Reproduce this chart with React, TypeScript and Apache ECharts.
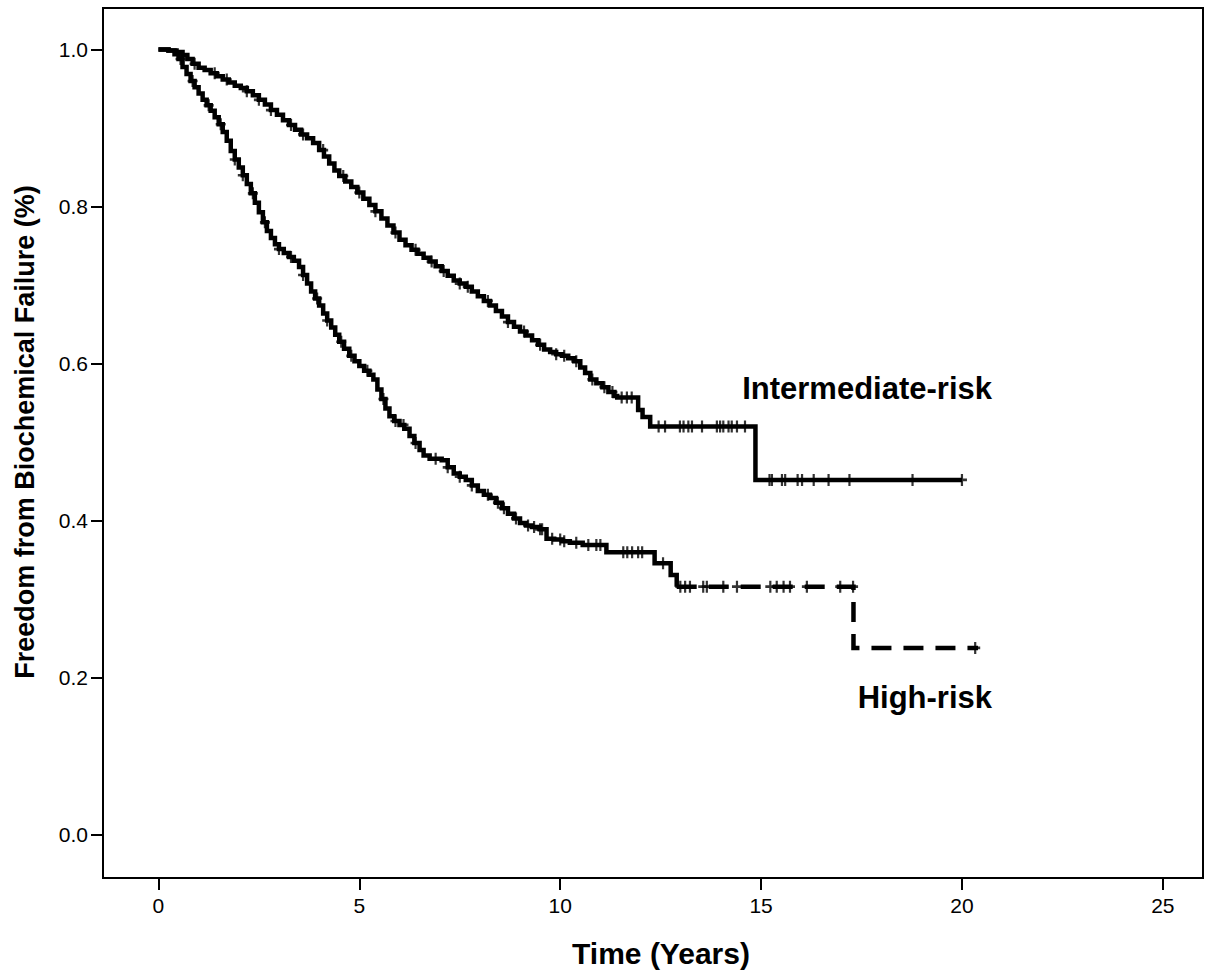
import React, { useEffect, useRef } from "react";
import * as echarts from "echarts";

// Axis ticks
const xTicks = [0, 5, 10, 15, 20, 25];
const yTicks = [0, 0.2, 0.4, 0.6, 0.8, 1.0];

// Kaplan-Meier estimates [years, survival]; each value holds until the next time
const intermediateRisk: [number, number][] = [
  [0, 1.0], [0.25, 0.999], [0.45, 0.997], [0.6, 0.993], [0.72, 0.988],
  [0.85, 0.982], [1.0, 0.977], [1.15, 0.974], [1.3, 0.97], [1.45, 0.966],
  [1.6, 0.962], [1.75, 0.958], [1.9, 0.954], [2.05, 0.951], [2.2, 0.947],
  [2.35, 0.942], [2.5, 0.936], [2.65, 0.93], [2.8, 0.923], [2.95, 0.917],
  [3.1, 0.91], [3.25, 0.904], [3.4, 0.898], [3.55, 0.892], [3.7, 0.887],
  [3.85, 0.881], [4.0, 0.872], [4.12, 0.864], [4.25, 0.855], [4.38, 0.846],
  [4.5, 0.839], [4.65, 0.832], [4.8, 0.825], [4.95, 0.818], [5.1, 0.81],
  [5.25, 0.802], [5.4, 0.794], [5.55, 0.785], [5.7, 0.776], [5.85, 0.767],
  [6.0, 0.758], [6.15, 0.751], [6.3, 0.745], [6.45, 0.74], [6.6, 0.735],
  [6.75, 0.73], [6.9, 0.724], [7.05, 0.718], [7.2, 0.712], [7.35, 0.706],
  [7.5, 0.702], [7.65, 0.698], [7.8, 0.692], [7.95, 0.686], [8.1, 0.68],
  [8.25, 0.674], [8.4, 0.667], [8.55, 0.66], [8.7, 0.653], [8.85, 0.647],
  [9.0, 0.641], [9.15, 0.636], [9.3, 0.63], [9.45, 0.624], [9.6, 0.618],
  [9.75, 0.615], [9.9, 0.612], [10.05, 0.61], [10.2, 0.607], [10.35, 0.603],
  [10.5, 0.595], [10.62, 0.588], [10.75, 0.58], [10.9, 0.575], [11.05, 0.57],
  [11.2, 0.564], [11.35, 0.559], [11.42, 0.557], [11.94, 0.541], [12.05, 0.532],
  [12.24, 0.52], [14.86, 0.452], [20.0, 0.452],
];

const highRisk: [number, number][] = [
  [0, 1.0], [0.25, 0.999], [0.4, 0.994], [0.5, 0.988], [0.6, 0.978],
  [0.7, 0.969], [0.8, 0.96], [0.9, 0.952], [1.0, 0.944], [1.1, 0.936],
  [1.2, 0.929], [1.3, 0.922], [1.4, 0.914], [1.5, 0.905], [1.6, 0.895],
  [1.7, 0.884], [1.8, 0.871], [1.9, 0.86], [2.0, 0.85], [2.1, 0.84],
  [2.2, 0.829], [2.3, 0.817], [2.4, 0.805], [2.5, 0.793], [2.6, 0.78],
  [2.7, 0.769], [2.8, 0.76], [2.9, 0.752], [3.0, 0.746], [3.12, 0.741],
  [3.25, 0.736], [3.37, 0.731], [3.5, 0.723], [3.6, 0.713], [3.7, 0.702],
  [3.8, 0.692], [3.9, 0.683], [4.0, 0.674], [4.1, 0.664], [4.2, 0.655],
  [4.3, 0.646], [4.4, 0.637], [4.5, 0.628], [4.62, 0.619], [4.75, 0.61],
  [4.88, 0.603], [5.0, 0.597], [5.12, 0.591], [5.25, 0.586], [5.35, 0.58],
  [5.45, 0.567], [5.55, 0.555], [5.65, 0.543], [5.75, 0.533], [5.87, 0.527],
  [6.0, 0.522], [6.12, 0.517], [6.25, 0.508], [6.37, 0.499], [6.5, 0.49],
  [6.6, 0.483], [6.75, 0.479], [7.05, 0.477], [7.2, 0.468], [7.35, 0.46],
  [7.5, 0.456], [7.65, 0.452], [7.8, 0.445], [7.95, 0.438], [8.1, 0.433],
  [8.25, 0.429], [8.4, 0.423], [8.55, 0.416], [8.7, 0.409], [8.85, 0.403],
  [9.0, 0.397], [9.15, 0.394], [9.3, 0.392], [9.49, 0.389], [9.66, 0.377],
  [9.85, 0.376], [10.05, 0.374], [10.24, 0.372], [10.56, 0.369], [11.15, 0.36],
  [12.35, 0.346], [12.75, 0.331], [12.9, 0.316], [17.3, 0.238], [20.4, 0.238],
];

// Censored observations (years)
const intermediateCensored = [
  0.9, 1.4, 1.7, 2.2, 2.5, 2.8, 3.3, 3.6, 4.1, 4.6, 5.0, 5.4, 5.9, 6.4, 6.8,
  7.1, 7.5, 7.7, 8.2, 8.7, 9.1, 9.5, 9.9, 10.1, 10.4, 10.8, 11.1, 11.3,
  11.53, 11.66, 11.78, 12.45, 12.61, 12.98, 13.07, 13.19, 13.28, 13.53, 13.9,
  13.98, 14.06, 14.19, 14.27, 14.4, 14.6, 15.21, 15.27, 15.52, 15.6, 15.91,
  16.02, 16.31, 16.68, 17.2, 18.77, 20.0,
];

const highRiskCensored = [
  0.55, 0.85, 1.25, 1.55, 1.9, 2.1, 2.35, 2.65, 3.0, 3.3, 3.6, 3.95, 4.2,
  4.55, 4.8, 5.2, 5.6, 5.9, 6.1, 6.4, 6.9, 7.2, 7.5, 7.8, 8.2, 8.45, 8.6,
  8.9, 9.2, 9.35, 9.5, 9.55, 9.8, 10.0, 10.1, 10.4, 10.7, 10.9, 11.0, 11.57,
  11.67, 11.79, 11.94, 12.04, 12.56, 12.99, 13.11, 13.23, 13.56, 13.65, 14.06,
  14.4, 15.23, 15.39, 15.56, 15.72, 16.14, 16.97, 17.29, 20.33,
];

const survivalAt = (curve: [number, number][], t: number) => {
  let s = curve[0][1];
  for (const [ti, si] of curve) {
    if (ti <= t) s = si;
    else break;
  }
  return s;
};

const FONT = "'Liberation Sans', Arial, Helvetica, sans-serif";
const PLUS = "path://M3.9,0H6.1V3.9H10V6.1H6.1V10H3.9V6.1H0V3.9H3.9Z";
const DASH_START = 12.9;

export default function App() {
  const ref = useRef<HTMLDivElement>(null);

  useEffect(() => {
    if (!ref.current) return;
    const chart = echarts.init(ref.current, undefined, { renderer: "svg" });

    const highSolid = highRisk.filter(([t]) => t <= DASH_START);
    const highDashed = highRisk.filter(([t]) => t >= DASH_START);

    const tick = {
      show: true,
      length: 12,
      lineStyle: { color: "#000", width: 2 },
    };
    const label = {
      fontSize: 21,
      color: "#000",
      fontFamily: FONT,
    };

    chart.setOption({
      animation: false,
      backgroundColor: "#ffffff",
      grid: {
        left: 103,
        right: 14,
        top: 8,
        bottom: 98,
        show: true,
        borderColor: "#000",
        borderWidth: 2,
        backgroundColor: "transparent",
        containLabel: false,
        outerBoundsMode: "none",
      },
      xAxis: {
        type: "value",
        min: -1.38,
        max: 26,
        splitLine: { show: false },
        axisLine: { show: false, onZero: false },
        axisTick: { ...tick, customValues: xTicks },
        axisLabel: { ...label, customValues: xTicks, margin: 17 },
      },
      yAxis: {
        type: "value",
        min: -0.055,
        max: 1.053,
        splitLine: { show: false },
        axisLine: { show: false, onZero: false },
        axisTick: { ...tick, customValues: yTicks },
        axisLabel: {
          ...label,
          customValues: yTicks,
          margin: 15,
          formatter: (v: number) => v.toFixed(1),
        },
      },
      series: [
        {
          name: "Intermediate-risk",
          type: "line",
          step: "end",
          showSymbol: false,
          data: intermediateRisk,
          lineStyle: { color: "#000", width: 4.5, join: "miter" },
          z: 3,
        },
        {
          name: "High-risk",
          type: "line",
          step: "end",
          showSymbol: false,
          data: highSolid,
          lineStyle: { color: "#000", width: 4.5, join: "miter" },
          z: 3,
        },
        {
          name: "High-risk",
          type: "line",
          step: "end",
          showSymbol: false,
          data: highDashed,
          lineStyle: { color: "#000", width: 4.5, type: [20, 12], join: "miter" },
          z: 3,
        },
        {
          name: "Intermediate-risk censored",
          type: "scatter",
          symbol: PLUS,
          symbolSize: [10, 12],
          data: intermediateCensored.map((t) => [t, survivalAt(intermediateRisk, t)]),
          itemStyle: { color: "#000" },
          z: 4,
        },
        {
          name: "High-risk censored",
          type: "scatter",
          symbol: PLUS,
          symbolSize: [10, 12],
          data: highRiskCensored.map((t) => [t, survivalAt(highRisk, t)]),
          itemStyle: { color: "#000" },
          z: 4,
        },
      ],
      graphic: [
        {
          type: "text",
          x: 992,
          y: 388,
          style: {
            text: "Intermediate-risk",
            font: `bold 31px ${FONT}`,
            fill: "#000",
            align: "right",
            verticalAlign: "middle",
          },
        },
        {
          type: "text",
          x: 992,
          y: 697,
          style: {
            text: "High-risk",
            font: `bold 31px ${FONT}`,
            fill: "#000",
            align: "right",
            verticalAlign: "middle",
          },
        },
        {
          type: "text",
          x: 661,
          y: 953,
          style: {
            text: "Time (Years)",
            font: `bold 30px ${FONT}`,
            fill: "#000",
            align: "center",
            verticalAlign: "middle",
          },
        },
        {
          type: "text",
          x: 25,
          y: 432,
          rotation: Math.PI / 2,
          style: {
            text: "Freedom from Biochemical Failure (%)",
            font: `bold 27px ${FONT}`,
            fill: "#000",
            align: "center",
            verticalAlign: "middle",
          },
        },
      ],
    });

    return () => chart.dispose();
  }, []);

  return (
    <div
      ref={ref}
      style={{ position: "fixed", left: 0, top: 0, width: 1217, height: 976, background: "#fff" }}
    />
  );
}
